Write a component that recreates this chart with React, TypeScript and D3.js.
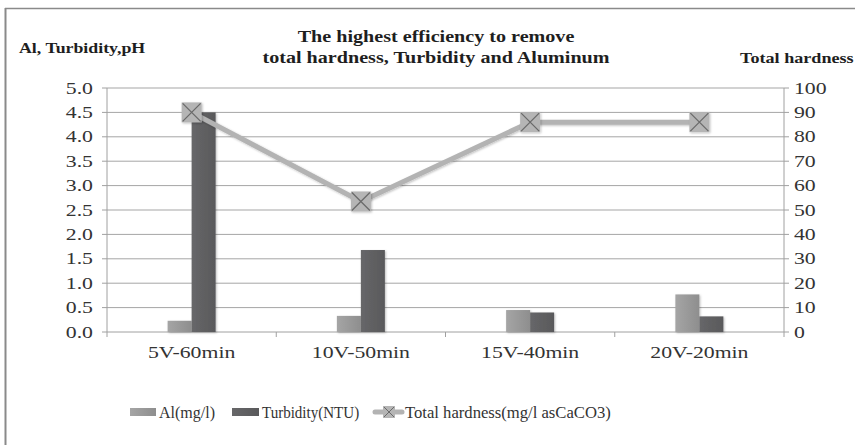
import React from "react";
import * as d3 from "d3";

const categories = ["5V-60min", "10V-50min", "15V-40min", "20V-20min"];
const alValues = [0.23, 0.33, 0.45, 0.77];
const turbidityValues = [4.5, 1.68, 0.4, 0.32];
const hardnessValues = [90, 53.5, 86, 86];
const leftTicks = [0, 0.5, 1, 1.5, 2, 2.5, 3, 3.5, 4, 4.5, 5];
const rightTicks = [0, 10, 20, 30, 40, 50, 60, 70, 80, 90, 100];

const W = 855;
const H = 445;
const plot = { left: 107, right: 784, top: 88, bottom: 332 };
const serif = "'Liberation Serif', 'Times New Roman', serif";

// text stretched horizontally like the source picture
function SText(props: {
  x: number;
  y: number;
  sx: number;
  size: number;
  anchor?: "start" | "middle" | "end";
  bold?: boolean;
  children: React.ReactNode;
}) {
  return (
    <text
      transform={`translate(${props.x},${props.y}) scale(${props.sx},1)`}
      textAnchor={props.anchor ?? "start"}
      fontFamily={serif}
      fontWeight={props.bold ? "bold" : "normal"}
      fontSize={props.size}
      fill={props.bold ? "#1e1e1e" : "#333"}
    >
      {props.children}
    </text>
  );
}

export default function App() {
  const x = d3.scaleBand<string>().domain(categories).range([plot.left, plot.right]);
  const yL = d3.scaleLinear().domain([0, 5]).range([plot.bottom, plot.top]);
  const yR = d3.scaleLinear().domain([0, 100]).range([plot.bottom, plot.top]);
  const barW = 24;
  const cx = (c: string) => (x(c) ?? 0) + x.bandwidth() / 2;

  const line = d3
    .line<number>()
    .x((_, i) => cx(categories[i]))
    .y((d) => yR(d));

  return (
    <svg width={W} height={H} style={{ position: "absolute", left: 0, top: 0, background: "#fff" }}>
      <defs>
        <linearGradient id="alGrad" x1="0" x2="1" y1="0" y2="0">
          <stop offset="0%" stopColor="#a5a5a5" />
          <stop offset="100%" stopColor="#8e8e8e" />
        </linearGradient>
        <linearGradient id="tuGrad" x1="0" x2="1" y1="0" y2="0">
          <stop offset="0%" stopColor="#676769" />
          <stop offset="100%" stopColor="#59595b" />
        </linearGradient>
        <filter id="shadow" x="-20%" y="-20%" width="140%" height="140%">
          <feDropShadow dx="1" dy="1" stdDeviation="1" floodColor="#000" floodOpacity="0.25" />
        </filter>
      </defs>

      {/* frame */}
      <line x1={5.5} y1={8} x2={5.5} y2={H} stroke="#8a8a8a" strokeWidth={2} />
      <line x1={5} y1={8.5} x2={W} y2={8.5} stroke="#8a8a8a" strokeWidth={1.5} />

      {/* titles */}
      <SText x={436} y={42} sx={1.22} size={16.5} anchor="middle" bold>The highest efficiency to remove</SText>
      <SText x={436} y={63} sx={1.22} size={16.5} anchor="middle" bold>total hardness, Turbidity and Aluminum</SText>
      <SText x={19} y={53} sx={1.15} size={15.5} bold>Al, Turbidity,pH</SText>
      <SText x={740} y={63} sx={1.17} size={15.5} bold>Total hardness</SText>

      {/* gridlines */}
      {leftTicks.slice(1).map((t) => (
        <line key={t} x1={plot.left} x2={plot.right} y1={yL(t)} y2={yL(t)} stroke="#a5a5a5" strokeWidth={1} />
      ))}

      {/* left axis */}
      <line x1={plot.left} x2={plot.left} y1={plot.top} y2={plot.bottom + 5} stroke="#a0a0a0" />
      {leftTicks.map((t) => (
        <g key={t}>
          <line x1={plot.left - 5} x2={plot.left} y1={yL(t)} y2={yL(t)} stroke="#a0a0a0" />
          <SText x={93} y={yL(t) + 5.5} sx={1.36} size={16} anchor="end">{t.toFixed(1)}</SText>
        </g>
      ))}

      {/* right axis */}
      <line x1={plot.right} x2={plot.right} y1={plot.top} y2={plot.bottom + 5} stroke="#a0a0a0" />
      {rightTicks.map((t) => (
        <g key={t}>
          <line x1={plot.right} x2={plot.right + 5} y1={yR(t)} y2={yR(t)} stroke="#a0a0a0" />
          <SText x={794} y={yR(t) + 5.5} sx={1.36} size={16}>{t}</SText>
        </g>
      ))}

      {/* x axis */}
      <line x1={plot.left} x2={plot.right} y1={plot.bottom} y2={plot.bottom} stroke="#a0a0a0" />
      {categories.slice(1).map((c) => (
        <line key={c} x1={x(c) ?? 0} x2={x(c) ?? 0} y1={plot.bottom} y2={plot.bottom + 5} stroke="#a0a0a0" />
      ))}
      {categories.map((c) => (
        <SText key={c} x={cx(c)} y={358} sx={1.36} size={16} anchor="middle">{c}</SText>
      ))}

      {/* bars */}
      {categories.map((c, i) => (
        <g key={c} filter="url(#shadow)">
          <rect x={cx(c) - barW} y={yL(alValues[i])} width={barW} height={plot.bottom - yL(alValues[i])} fill="url(#alGrad)" />
          <rect x={cx(c)} y={yL(turbidityValues[i])} width={barW} height={plot.bottom - yL(turbidityValues[i])} fill="url(#tuGrad)" />
        </g>
      ))}

      {/* hardness line */}
      <path d={line(hardnessValues) ?? ""} fill="none" stroke="#b3b3b3" strokeWidth={5} filter="url(#shadow)" />
      {hardnessValues.map((v, i) => {
        const px = cx(categories[i]);
        const py = yR(v);
        return (
          <g key={i} filter="url(#shadow)">
            <rect x={px - 10} y={py - 10} width={20} height={20} fill="#b5b5b5" />
            <path d={`M${px - 9},${py - 9}L${px + 9},${py + 9}M${px + 9},${py - 9}L${px - 9},${py + 9}`} stroke="#6a6a6a" strokeWidth={1.3} />
          </g>
        );
      })}

      {/* legend */}
      <rect x={130} y={408} width={26} height={8} fill="url(#alGrad)" />
      <SText x={159} y={418} sx={1.0} size={16}>Al(mg/l)</SText>
      <rect x={232} y={408} width={27} height={8} fill="url(#tuGrad)" />
      <SText x={262} y={418} sx={0.94} size={16}>Turbidity(NTU)</SText>
      <line x1={375} x2={402} y1={412} y2={412} stroke="#b3b3b3" strokeWidth={5} strokeLinecap="round" />
      <rect x={383} y={406} width={12} height={12} fill="#b5b5b5" />
      <path d="M384,407L394,417M394,407L384,417" stroke="#6a6a6a" strokeWidth={1} />
      <SText x={405} y={418} sx={1.04} size={16}>Total hardness(mg/l asCaCO3)</SText>
    </svg>
  );
}
